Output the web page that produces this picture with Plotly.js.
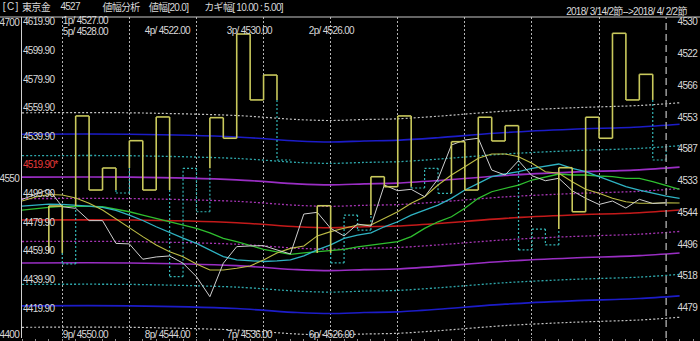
<!DOCTYPE html>
<html><head><meta charset="utf-8">
<script src="https://cdn.plot.ly/plotly-3.0.1.min.js"></script>
<style>html,body{margin:0;padding:0;background:#000;}#chart{width:700px;height:341px;}#chart svg text{letter-spacing:-0.7px;}</style>
</head><body><div id="chart"></div>
<script>
// ---------------- data ----------------
// price line (white) per kagi column 0..48
const priceLine = [4495.8,4499.6,4502.9,4490.7,4489.6,4481.0,4481.0,4465.1,4464.7,4454.0,4455.6,4456.3,4451.2,4441.8,4427.8,4451.2,4462.8,4463.3,4463.5,4460.5,4457.7,4485.6,4486.8,4475.6,4470.3,4478.6,4477.2,4505.9,4501.9,4502.9,4497.7,4510.1,4533.9,4537.4,4538.6,4516.4,4512.9,4522.9,4512.4,4508.9,4510.6,4501.9,4496.6,4492.3,4494.7,4489.8,4495.9,4493.0,4493.5];
// moving averages per column 0..49
const maYellow = [4494.7,4497.5,4499.3,4498.9,4496.8,4493.1,4488.4,4482.1,4475.6,4469.8,4464.0,4459.3,4455.8,4450.7,4446.5,4446.5,4447.7,4449.3,4453.5,4458.4,4461.6,4463.3,4470.3,4473.3,4475.6,4477.9,4477.9,4482.6,4487.2,4493.1,4497.7,4505.9,4512.9,4518.7,4524.6,4527.6,4527.6,4525.7,4521.1,4515.2,4514.1,4508.2,4502.9,4500.1,4496.6,4494.2,4493.1,4493.1,4493.5,4493.3];
const maCyan = [4491.2,4491.9,4492.6,4492.3,4491.9,4491.2,4490.3,4488.1,4484.9,4481.1,4476.7,4472.5,4468.8,4465.1,4460.5,4455.8,4453.5,4452.8,4452.4,4452.8,4453.5,4456.3,4460.5,4464.0,4468.6,4470.9,4472.5,4476.7,4480.2,4484.9,4488.4,4491.9,4496.6,4502.4,4507.1,4511.7,4513.6,4515.2,4517.6,4519.2,4520.6,4517.6,4515.2,4511.7,4508.2,4504.7,4502.4,4500.1,4498.2,4496.6];
const maGreen = [4488.4,4489.5,4490.3,4490.9,4491.2,4491.0,4490.7,4489.1,4487.2,4484.9,4482.6,4480.4,4477.9,4475.6,4472.5,4468.6,4466.3,4463.6,4460.9,4459.1,4457.4,4458.4,4459.3,4460.1,4460.9,4462.6,4464.0,4465.1,4466.3,4469.8,4475.6,4480.2,4483.7,4489.6,4496.6,4501.2,4503.8,4505.9,4509.4,4511.7,4513.6,4512.9,4512.9,4512.2,4511.7,4510.6,4510.6,4508.2,4505.6,4502.9];
// envelope centre (red) and band widths
const midCols = [0, 8, 16, 20.5, 23, 25.5, 28, 31, 36, 41, 46, 49];
const midLine = [4481.4, 4481.4, 4479.5, 4476.7, 4476.0, 4476.7, 4477.2, 4479.0, 4482.6, 4484.9, 4486.5, 4488.4];
const bandOffsets = [15, 30, 45, 60, 75];
// kagi: one vertical per column (from -> to), style switch level, yang flag of the end part
const kagiCol   = [2,3,4,5,6,7,8,9,10,11,12,13,14,15,16,17,18,19,20, 22,23,24,25,26,27,28,29,30,31,32,33,34,35,36,37,38,39,40,41,42,43,44,45,46,47,48];
const kagiFrom  = [4458.4,4491.2,4450.7,4554.2,4502.4,4517.8,4500.3,4536.9,4502.4,4553.5,4441.8,4517.6,4487.2,4553.0,4538.6,4611.5,4565.4,4582.8,4523.4, 4458.4,4491.4,4451.4,4484.9,4474.4,4511.7,4504.7,4554.2,4503.8,4517.6,4500.1,4536.2,4502.4,4553.3,4536.7,4547.4,4460.5,4475.1,4464.0,4518.0,4487.2,4553.3,4538.6,4612.0,4565.4,4583.3,4523.4];
const kagiTo    = [4491.2,4450.7,4554.2,4502.4,4517.8,4500.3,4536.9,4502.4,4553.5,4441.8,4517.6,4487.2,4553.0,4538.6,4611.5,4565.4,4582.8,4523.4,4523.4, 4491.4,4451.4,4484.9,4474.4,4511.7,4504.7,4554.2,4503.8,4517.6,4500.1,4536.2,4502.4,4553.3,4536.7,4547.4,4460.5,4475.1,4464.0,4518.0,4487.2,4553.3,4538.6,4612.0,4565.4,4583.3,4523.4,4533.2];
const kagiSplit = [null,4458.4,4491.2,null,null,4502.4,4517.8,null,null,4502.4,null,null,4517.6,null,null,null,null,4565.4,null, null,4458.4,null,null,4484.9,null,null,4504.7,null,null,null,null,null,null,null,4523.4,null,null,4475.1,null,null,null,null,null,null,4565.4,null];
const kagiYang  = [1,0,1,1,1,0,1,1,1,0,0,0,1,1,1,1,1,0,0, 1,0,0,0,1,1,1,0,0,0,1,1,1,1,1,0,0,0,1,1,1,1,1,1,1,0,0];
// axis labels
const innerTickVals = [4619.9,4599.9,4579.9,4559.9,4539.9,4519.9,4499.9,4479.9,4459.9,4439.9,4419.9];
const innerTickText = ['4619.90','4599.90','4579.90','4559.90','4539.90','<span style="color:#e83a3a">4519.90*</span>','4499.90','4479.90','4459.90','4439.90','4419.90'];
const outerTickVals = [4700, 4550, 4400];
const rightTickText = ['4530','4522','4566','4553','4587','4533','4544','4496','4518','4479'];
const gridCols = [3, 8, 13, 18, 23, 28, 33, 38, 43];
const lastCol = 48;
const topLabels = ['1p/ 4527.00','5p/ 4528.00','4p/ 4522.00','3p/ 4530.00','2p/ 4526.00'];
const bottomLabels = ['9p/ 4550.00','8p/ 4544.00','7p/ 4536.00','6p/ 4526.00'];
const headerParts = ['[ C ]','東京金','4527','値幅分析','値幅[20.0]','カギ幅[ 10.00 : 5.00]'];
const dateText = '2018/ 3/14/2節-->2018/ 4/ 2/2節';

// ---------------- layout helpers ----------------
const W = 700, H = 341, ML = 22, MT = 17, MB = 3;
const PW = W - ML, PH = H - MT - MB;
const px = v => (v - ML) / PW;          // pixel x -> paper x
const py = v => (H - MB - v) / PH;      // pixel y -> paper y
const FONT = '"Liberation Sans","Noto Sans CJK JP",sans-serif';
const TXT = '#d8d8d8';

const traces = [];
const cols = n => Array.from({length: n}, (_, i) => i);

// bands
const bandStyles = [
  {color:'#a634b4', dash:'2px,2px', width:1.3},
  {color:'#9a2ec4', dash:'solid',   width:1.6},
  {color:'#2ea8ac', dash:'2px,2px', width:1.3},
  {color:'#1c1cc8', dash:'solid',   width:1.6},
  {color:'#c4c4c4', dash:'2px,2px', width:1.2}
];
bandOffsets.forEach((off, k) => {
  [1, -1].forEach(sgn => {
    traces.push({x: midCols, y: midLine.map(v => v + sgn * off), mode:'lines',
      line:{color:bandStyles[k].color, dash:bandStyles[k].dash, width:bandStyles[k].width, shape:'spline', smoothing:0.8}, hoverinfo:'skip'});
  });
});
traces.push({x: midCols, y: midLine, mode:'lines', line:{color:'#c41a1a', width:1.6, shape:'spline', smoothing:0.8}, hoverinfo:'skip'});

// kagi
const yangX=[], yangY=[], yinX=[], yinY=[];
function seg(yang, x0, y0, x1, y1){
  const X = yang ? yangX : yinX, Y = yang ? yangY : yinY;
  X.push(x0, x1, null); Y.push(y0, y1, null);
}
kagiCol.forEach((c, k) => {
  const yang = !!kagiYang[k];
  if (kagiSplit[k] !== null) { seg(!yang, c, kagiFrom[k], c, kagiSplit[k]); seg(yang, c, kagiSplit[k], c, kagiTo[k]); }
  else if (kagiFrom[k] !== kagiTo[k]) seg(yang, c, kagiFrom[k], c, kagiTo[k]);
  if (k + 1 < kagiCol.length && kagiCol[k+1] === c + 1) seg(yang, c, kagiTo[k], c + 1, kagiTo[k]);
});
traces.push({x: yinX, y: yinY, mode:'lines', line:{color:'#33b5b5', width:1.2, dash:'2px,2px'}, hoverinfo:'skip'});

// moving averages and price line
traces.push({x: cols(maGreen.length),  y: maGreen,  mode:'lines', line:{color:'#2fbf2f', width:1.3}, hoverinfo:'skip'});
traces.push({x: cols(maCyan.length),   y: maCyan,   mode:'lines', line:{color:'#2fb3c3', width:1.3}, hoverinfo:'skip'});
traces.push({x: cols(maYellow.length), y: maYellow, mode:'lines', line:{color:'#bdbd45', width:1.1}, hoverinfo:'skip'});
traces.push({x: cols(priceLine.length),y: priceLine,mode:'lines', line:{color:'#cfcfcf', width:1}, hoverinfo:'skip'});
traces.push({x: yangX, y: yangY, mode:'lines', line:{color:'#c9c95c', width:1.6}, hoverinfo:'skip'});

// helper traces so that the extra axes are drawn
traces.push({x:[0], y:[null], xaxis:'x2', yaxis:'y', mode:'markers', hoverinfo:'skip'});
traces.push({x:[0], y:[null], yaxis:'y2', mode:'markers', hoverinfo:'skip'});
traces.push({x:[0], y:[null], yaxis:'y3', mode:'markers', hoverinfo:'skip'});

// annotations
const ann = [];
function label(text, x, y, anchor, size){
  ann.push({text, xref:'paper', yref:'paper', x: px(x), y: py(y), xanchor: anchor || 'left', yanchor:'middle',
    showarrow:false, font:{family:FONT, size: size || 10, color:TXT}, borderpad:0});
}
const headerX = [0, 20, 58, 100, 145, 197];
headerParts.forEach((t, i) => label(t, headerX[i], 7, 'left', 10));
label(dateText, 698, 11, 'right', 10);
const topPos = [[58,20.5],[58,31],[140,30],[222,30],[304,30]];
topLabels.forEach((t, i) => label(t, topPos[i][0], topPos[i][1]));
const botX = [58, 140, 222, 304];
bottomLabels.forEach((t, i) => label(t, botX[i], 334));

const yMin = 4398.92, yMax = 4623.39;
const layout = {
  width: W, height: H, paper_bgcolor:'#000', plot_bgcolor:'#000',
  margin:{l:ML, r:0, t:MT, b:MB, pad:0}, showlegend:false,
  font:{family:FONT, size:10, color:TXT},
  xaxis:{range:[0, PW/13.42], tickvals:gridCols, showticklabels:false, ticks:'', showgrid:true,
    gridcolor:'#b4b4b4', griddash:'2px,2px', gridwidth:1, zeroline:false, showline:false, fixedrange:true},
  xaxis2:{overlaying:'x', anchor:'y', side:'bottom', range:[0, PW/13.42], tick0:0, dtick:1, ticks:'outside', ticklen:3,
    tickcolor:'#8a8a8a', showticklabels:false, showgrid:false, zeroline:false, showline:false},
  yaxis:{range:[yMin, yMax], tickvals:innerTickVals, ticktext:innerTickText, ticklabelposition:'inside',
    ticklabeloverflow:'allow', ticks:'', showgrid:false, zeroline:false, showline:true, linecolor:'#d0d0d0', linewidth:1,
    tickfont:{family:FONT, size:10, color:TXT}},
  yaxis2:{overlaying:'y', side:'left', anchor:'x', range:[4396.15, 4704.81], tickvals:outerTickVals, ticks:'',
    showgrid:false, zeroline:false, showline:false, ticklabelstandoff:2, ticklabeloverflow:'allow',
    tickfont:{family:FONT, size:10, color:TXT}},
  yaxis3:{overlaying:'y', side:'right', anchor:'x', range:[9.953, -0.148], tickvals:cols(rightTickText.length),
    ticktext:rightTickText, ticklabelposition:'inside', ticklabeloverflow:'allow', ticks:'', showgrid:false,
    zeroline:false, showline:false, tickfont:{family:FONT, size:10, color:TXT}},
  shapes:[
    {type:'line', xref:'paper', yref:'paper', x0:-ML/PW, x1:1, y0:1, y1:1, line:{color:'#c8c8c8', width:1}},
    {type:'line', xref:'x', yref:'paper', x0:lastCol, x1:lastCol, y0:0, y1:1, line:{color:'#9a9a9a', width:1.5, dash:'7px,4px'}}
  ],
  annotations: ann
};
Plotly.newPlot('chart', traces, layout, {staticPlot:true, displayModeBar:false});
</script>
</body></html>
